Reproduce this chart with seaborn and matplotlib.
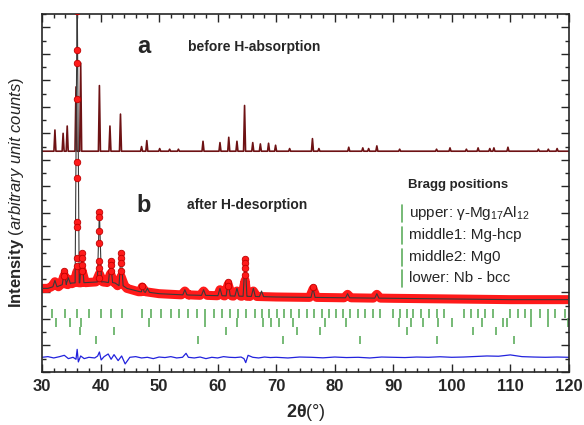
import matplotlib
matplotlib.use("Agg")
import matplotlib.pyplot as plt
from matplotlib.ticker import MultipleLocator
import numpy as np
import pandas as pd
import seaborn as sns

# --- pattern a: calculated profile before H-absorption (peak position, top) ---
a_base = 16.65
a_pos = [32.2, 33.6, 34.3, 35.8, 36.6, 39.8, 41.6, 43.4, 47.0, 47.9, 50.1, 51.8,
         53.3, 57.5, 60.4, 61.9, 63.3, 64.6, 66.0, 67.3, 68.7, 69.9, 72.3, 76.2,
         77.3, 82.4, 84.8, 85.8, 87.2, 91.1, 97.4, 99.7, 102.5, 104.5, 106.5,
         107.2, 109.6, 114.8, 116.5, 118.0]
a_top = [18.25, 18.0, 18.55, 21.5, 23.3, 21.6, 18.55, 19.45, 17.0, 17.45, 16.85,
         16.8, 16.8, 17.4, 17.3, 17.7, 17.4, 20.1, 17.3, 17.2, 17.25, 17.1, 16.85,
         17.6, 16.85, 16.95, 16.9, 16.85, 17.05, 16.8, 16.8, 16.9, 16.8, 16.9,
         16.85, 16.9, 16.95, 16.8, 16.8, 16.85]

# --- pattern b: after H-desorption ---
b_base_x = [30, 31, 33, 35, 38, 40.5, 42.5, 44.5, 47, 50, 55, 60, 65, 70, 80, 90, 100, 110, 120]
b_base_y = [6.3, 6.3, 6.5, 6.7, 6.75, 6.8, 6.7, 6.3, 6.05, 5.9, 5.8, 5.75, 5.7, 5.65,
            5.6, 5.55, 5.5, 5.45, 5.45]
# calculated peaks (thin line)
b_pos = [32.2, 33.8, 34.5, 36.0, 36.8, 39.8, 41.7, 43.5, 47.1, 48.0, 54.4, 57.6,
         60.4, 61.8, 63.3, 64.7, 66.1, 67.5, 76.3, 82.2, 87.2]
b_top = [6.9, 7.6, 7.1, 29.0, 9.0, 12.1, 8.4, 9.0, 6.5, 6.3, 6.2, 6.2, 6.3, 6.8,
         6.3, 8.5, 6.3, 6.1, 6.3, 5.9, 5.9]
# observed band: the foot of each peak
band_pos = [32.2, 33.8, 34.5, 36.0, 36.8, 39.8, 41.7, 43.5, 47.1, 54.4, 57.6,
            60.4, 61.8, 63.3, 64.7, 66.1, 76.3, 82.2, 87.2]
band_top = [6.8, 7.3, 7.0, 7.6, 7.7, 7.4, 7.4, 7.2, 6.4, 6.1, 6.1, 6.2, 6.6, 6.1,
            6.9, 6.1, 6.25, 5.85, 5.85]

# observed points read on the peak flanks
obs_x = [36.0] * 10 + [36.8] * 4 + [39.8] * 7 + [41.7] * 3 + [43.5] * 4 + [33.8] * 2 \
    + [64.7] * 4 + [61.8] * 2 + [47.1, 76.3]
obs_y = [27.2, 24.3, 23.3, 20.6, 15.8, 14.6, 11.3, 10.9, 8.6, 8.0,
         9.0, 8.6, 8.1, 7.6,
         12.1, 11.7, 10.6, 9.7, 8.4, 7.8, 7.1,
         8.4, 8.1, 7.6,
         9.0, 8.6, 8.2, 7.6,
         7.6, 7.2,
         8.5, 8.2, 7.8, 7.3,
         6.8, 6.5,
         6.5, 6.4]

# difference curve
diff_x = [30, 31, 32, 33, 33.8, 34.5, 35.3, 35.8, 36.0, 36.2, 36.6, 37.2, 38, 39,
          39.5, 39.8, 40.1, 40.6, 41.3, 41.8, 42.3, 43, 43.6, 44.2, 45, 46, 47, 48,
          49, 50, 51, 52, 53, 54, 54.6, 55, 56, 57, 58, 59, 60, 61, 62, 63, 64, 64.5,
          64.8, 65.2, 66, 67, 68, 69, 70, 72, 74, 76, 78, 80, 82, 84, 86, 88, 90,
          92, 94, 96, 98, 100, 102, 104, 106, 108, 110, 112, 114, 116, 118, 120]
diff_y = [1.1, 1.15, 1.05, 1.15, 1.25, 1.0, 1.1, 0.95, 1.7, 0.75, 1.2, 1.0, 1.1,
          1.05, 1.2, 1.5, 0.9, 1.15, 1.35, 0.95, 1.3, 0.85, 1.2, 0.6, 1.1, 1.15,
          1.05, 1.1, 1.0, 1.12, 1.08, 1.15, 1.05, 1.1, 1.4, 1.1, 1.05, 1.12, 1.0,
          1.1, 1.05, 1.15, 1.1, 1.08, 1.12, 1.0, 0.7, 1.25, 1.1, 1.05, 1.12, 1.08,
          1.1, 1.05, 1.12, 1.1, 1.06, 1.12, 1.08, 1.1, 1.05, 1.12, 1.1, 1.08,
          1.12, 1.1, 1.14, 1.1, 1.12, 1.16, 1.2, 1.18, 1.28, 1.15, 1.12, 1.1,
          1.12, 1.1]

# Bragg positions
bragg_upper = [31.7, 33.9, 36.0, 38.1, 40.0, 41.8, 43.6, 47.0, 48.7, 50.4, 52.0,
               53.4, 55.0, 56.4, 57.8, 59.3, 60.7, 62.1, 63.5, 64.8, 66.3, 67.5,
               68.8, 70.1, 71.3, 72.6, 73.9, 75.2, 76.5, 77.8, 79.1, 80.2, 81.5,
               82.6, 83.9, 85.2, 86.5, 87.7, 90.0, 91.1, 92.3, 93.4, 94.8, 96.1,
               97.4, 98.7, 102.1, 103.3, 104.5, 105.6, 107.1, 110.0, 111.3, 112.5,
               113.6, 115.0, 116.5, 117.7, 119.3]
bragg_mid1 = [32.4, 34.7, 36.6, 48.2, 57.8, 63.3, 67.8, 69.1, 70.5, 72.9, 78.3,
              82.0, 91.0, 93.0, 95.1, 97.6, 100.0, 105.1, 108.7, 109.4, 113.6, 116.5, 119.8]
bragg_mid2 = [36.4, 42.3, 61.4, 73.6, 77.5, 92.4, 103.7, 107.6]
bragg_lower = [39.2, 56.6, 71.1, 84.3, 97.4, 110.7]
bragg_rows = [(bragg_upper, 4.1, 4.75), (bragg_mid1, 3.4, 4.05),
              (bragg_mid2, 2.75, 3.35), (bragg_lower, 2.1, 2.7)]
legend_labels = ["upper: γ-Mg$_{17}$Al$_{12}$", "middle1: Mg-hcp",
                 "middle2: Mg0", "lower: Nb - bcc"]


def peak_polyline(base_x, base_y, pos, top, hw):
    xs = list(base_x)
    ys = list(base_y)
    for p, t in zip(pos, top):
        b = float(np.interp(p, base_x, base_y))
        xs += [p - hw, p, p + hw]
        ys += [b, t, b]
    order = np.argsort(xs, kind="stable")
    return pd.DataFrame({"x": np.array(xs)[order], "y": np.array(ys)[order]})


sns.set_style("ticks")
plt.rcParams["font.family"] = ["Liberation Sans", "DejaVu Sans"]
plt.rcParams["mathtext.fontset"] = "custom"
plt.rcParams["mathtext.rm"] = "Liberation Sans"
plt.rcParams["mathtext.it"] = "Liberation Sans:italic"
plt.rcParams["mathtext.bf"] = "Liberation Sans:bold"

fig = plt.figure(figsize=(5.84, 4.25), dpi=100)
ax = fig.add_axes([0.072, 0.125, 0.902, 0.842])

# a: calculated pattern
df_a = peak_polyline([30, 120], [a_base, a_base], a_pos, a_top, 0.17)
sns.lineplot(data=df_a, x="x", y="y", ax=ax, color="#6e1214", lw=1.2,
             sort=False, estimator=None)

# b: observed band + points, calculated line
df_band = peak_polyline(b_base_x, b_base_y, band_pos, band_top, 0.6)
sns.lineplot(data=df_band, x="x", y="y", ax=ax, color="#ff1a1a", lw=6.5,
             sort=False, estimator=None, solid_capstyle="butt")
df_bc = peak_polyline(b_base_x, b_base_y, b_pos, b_top, 0.35)
sns.lineplot(data=df_bc, x="x", y="y", ax=ax, color="#3a3a3a", lw=0.8,
             sort=False, estimator=None, zorder=3)
sns.scatterplot(x=obs_x, y=obs_y, ax=ax, color="#ff1a1a", edgecolor="#c00000",
                s=22, linewidth=0.6, zorder=4)

# difference
sns.lineplot(x=diff_x, y=diff_y, ax=ax, color="#2222dd", lw=0.9,
             sort=False, estimator=None)

# Bragg ticks
for pos, lo, hi in bragg_rows:
    ax.vlines(pos, lo, hi, color="#5fae5f", lw=1.2)

ax.set_xlim(30, 120)
ax.set_ylim(0, 27)
ax.xaxis.set_major_locator(MultipleLocator(10))
ax.xaxis.set_minor_locator(MultipleLocator(2))
ax.yaxis.set_major_locator(MultipleLocator(2))
ax.yaxis.set_minor_locator(MultipleLocator(1))
ax.set_yticklabels([])
ax.tick_params(which="both", direction="in", top=True, right=True, width=1.0)
ax.tick_params(which="major", length=6)
ax.tick_params(which="minor", length=3)
ax.tick_params(axis="x", labelsize=12, pad=5)
for lab in ax.get_xticklabels():
    lab.set_fontweight("bold")
for sp in ax.spines.values():
    sp.set_linewidth(1.2)

ax.set_xlabel(r"$\mathbf{2θ}$$\mathit{(°)}$", fontsize=13, labelpad=6)
ax.set_ylabel(r"$\mathbf{Intensity}$ $\mathit{(arbitrary\ unit\ counts)}$",
              fontsize=12, labelpad=8)

ax.text(0.1935, 0.908, "a", transform=ax.transAxes, fontsize=17,
        fontweight="bold", ha="center", va="center")
ax.text(0.277, 0.908, "before H-absorption", transform=ax.transAxes, fontsize=10,
        fontweight="bold", ha="left", va="center")
ax.text(0.1935, 0.466, "b", transform=ax.transAxes, fontsize=17,
        fontweight="bold", ha="center", va="center")
ax.text(0.275, 0.466, "after H-desorption", transform=ax.transAxes, fontsize=10,
        fontweight="bold", ha="left", va="center")

ax.text(0.6945, 0.522, "Bragg positions", transform=ax.transAxes, fontsize=9.5,
        fontweight="bold", ha="left", va="center")
for i, lab in enumerate(legend_labels):
    yy = [0.444, 0.383, 0.321, 0.263][i]
    ax.plot([0.6835, 0.6835], [yy - 0.026, yy + 0.022], transform=ax.transAxes,
            color="#5fae5f", lw=1.2)
    ax.text(0.696, yy, lab, transform=ax.transAxes, fontsize=11,
            ha="left", va="center")

fig.savefig("out.png", dpi=100)
